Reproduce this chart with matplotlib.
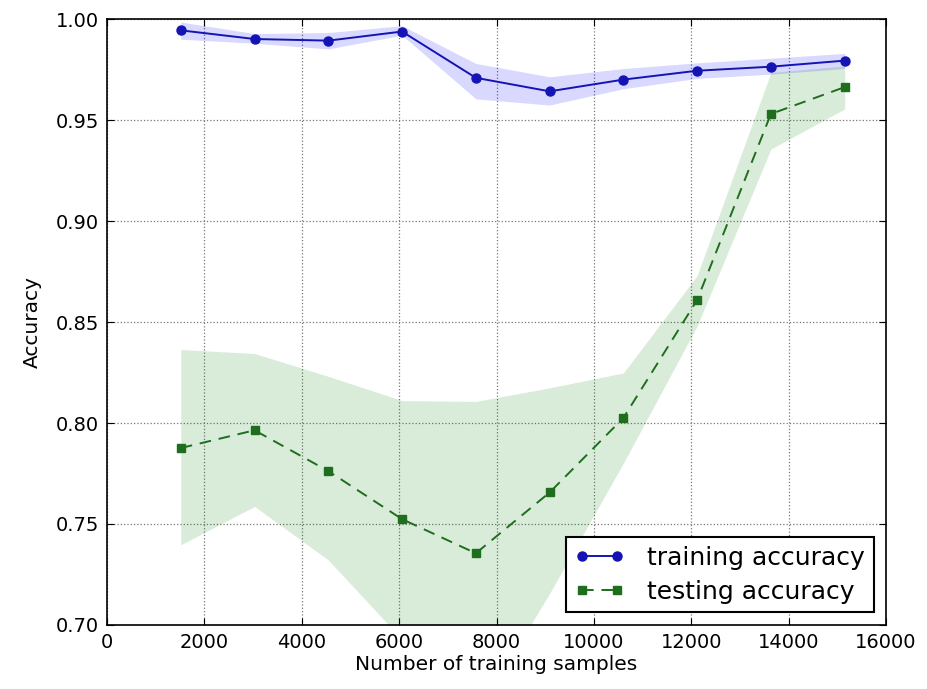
import matplotlib
matplotlib.use("Agg")
import matplotlib.pyplot as plt

# learning curve values
train_sizes = [1515, 3030, 4545, 6060, 7575, 9090, 10605, 12120, 13635, 15150]

train_mean = [0.9944, 0.9901, 0.9893, 0.9938, 0.9709, 0.9642, 0.9700, 0.9744, 0.9764, 0.9794]
train_upper = [0.9985, 0.9928, 0.9933, 0.9967, 0.9780, 0.9714, 0.9755, 0.9783, 0.9806, 0.9830]
train_lower = [0.9900, 0.9880, 0.9852, 0.9920, 0.9605, 0.9574, 0.9655, 0.9706, 0.9727, 0.9755]

test_mean = [0.7876, 0.7964, 0.7762, 0.7524, 0.7355, 0.7656, 0.8025, 0.8609, 0.9530, 0.9663]
test_upper = [0.8364, 0.8344, 0.8231, 0.8111, 0.8107, 0.8174, 0.8248, 0.8730, 0.9735, 0.9768]
test_lower = [0.7397, 0.7587, 0.7322, 0.6929, 0.6550, 0.7156, 0.7801, 0.8480, 0.9356, 0.9555]

x_ticks = [0, 2000, 4000, 6000, 8000, 10000, 12000, 14000, 16000]
y_ticks = [0.70, 0.75, 0.80, 0.85, 0.90, 0.95, 1.00]

BLUE = "#1414b4"
GREEN = "#1e6e1e"

plt.rcParams["font.family"] = "DejaVu Sans"

fig = plt.figure(figsize=(9.28, 6.89), dpi=100)
fig.patch.set_facecolor("white")
ax = fig.add_axes([0.1153, 0.0929, 0.8395, 0.8795])

ax.plot(train_sizes, train_mean, color=BLUE, marker="o", markersize=6.5,
        linewidth=1.4, label="training accuracy", zorder=4)
ax.fill_between(train_sizes, train_upper, train_lower, color="blue",
                alpha=0.15, linewidth=0)

ax.plot(train_sizes, test_mean, color=GREEN, linestyle="--", dashes=(6, 4),
        marker="s", markersize=5.5, linewidth=1.4, label="testing accuracy",
        zorder=4)
ax.fill_between(train_sizes, test_upper, test_lower, color="green",
                alpha=0.15, linewidth=0)

ax.grid(True, color="#777777", linestyle=":", linewidth=0.9)
ax.set_axisbelow(True)
ax.set_xlim(0, 16000)
ax.set_ylim(0.70, 1.00)
ax.set_xticks(x_ticks)
ax.set_yticks(y_ticks)
ax.set_yticklabels([f"{v:.2f}" for v in y_ticks])
ax.tick_params(direction="in", top=True, right=True, length=5, width=0.8,
               labelsize=14, pad=6)
for sp in ax.spines.values():
    sp.set_linewidth(1.2)

ax.set_xlabel("Number of training samples", fontsize=14.5, labelpad=2)
ax.set_ylabel("Accuracy", fontsize=14.5, labelpad=10)

leg = ax.legend(loc="lower right", fontsize=18, numpoints=2, fancybox=False,
                framealpha=1, edgecolor="black", handlelength=2.0,
                borderaxespad=0.5, handletextpad=0.9, labelspacing=0.4,
                borderpad=0.35)
leg.get_frame().set_linewidth(1.5)

fig.savefig("out.png", dpi=100, facecolor="white")
